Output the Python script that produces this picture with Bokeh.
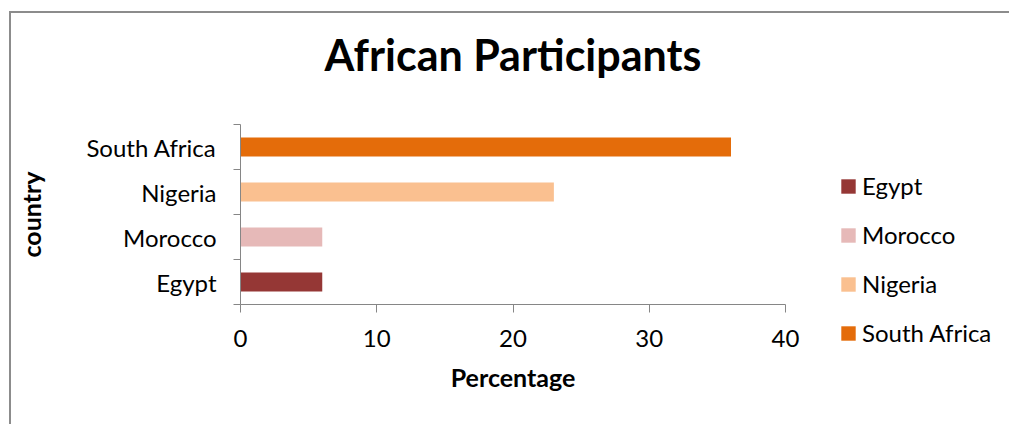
from bokeh.plotting import figure
from bokeh.models import (ColumnDataSource, Range1d, LinearAxis, FixedTicker, Legend, LegendItem, Title)
from bokeh.embed import file_html
from bokeh.resources import INLINE

countries = ["Egypt", "Morocco", "Nigeria", "South Africa"]
percentages = [6, 6, 23, 36]
colors = ["#953735", "#E6B9B8", "#FAC090", "#E46C0A"]
x_ticks = [0, 10, 20, 30, 40]

FONT = "Lato"
AXIS_GREY = "#868686"

# category positions: band centres on a numeric axis (band i spans i..i+1)
positions = [i + 0.5 for i in range(len(countries))]
boundaries = list(range(len(countries) + 1))

source = ColumnDataSource(dict(country=countries, y=positions, pct=percentages, color=colors))

p = figure(frame_width=545, frame_height=180, output_backend="svg", toolbar_location=None,
           y_range=Range1d(0, len(countries)), x_range=Range1d(0, 40),
           x_axis_location=None, y_axis_location=None,
           min_border_left=229, min_border_right=224, min_border_top=111, min_border_bottom=120)
p.styles = {"border-top": "2px solid #8c8c8c", "border-left": "2px solid #8c8c8c",
            "margin-left": "9px", "margin-top": "11px"}

# spacer title (closest to the frame) pushes the real title upward
p.add_layout(Title(text=" ", text_font_size="1px", standoff=37), "above")

p.title.text = "African Participants"
p.title.align = "center"
p.title.text_font = FONT
p.title.text_font_size = "43px"
p.title.text_font_style = "bold"
p.title.text_color = "#000000"
p.title.standoff = 10

p.outline_line_color = None
p.xgrid.visible = False
p.ygrid.visible = False

bars = p.hbar(y="y", right="pct", left=0, height=0.42, fill_color="color",
              line_color=None, source=source)

# x axis
xaxis = LinearAxis(ticker=FixedTicker(ticks=x_ticks), axis_label="Percentage")
xaxis.axis_line_color = AXIS_GREY
xaxis.major_tick_line_color = AXIS_GREY
xaxis.major_tick_out = 8
xaxis.major_tick_in = 0
xaxis.minor_tick_line_color = None
xaxis.major_label_text_font = FONT
xaxis.major_label_text_font_size = "24px"
xaxis.major_label_text_color = "#000000"
xaxis.major_label_standoff = 17
xaxis.axis_label_text_font = FONT
xaxis.axis_label_text_font_size = "25px"
xaxis.axis_label_text_font_style = "bold"
xaxis.axis_label_text_color = "#000000"
xaxis.axis_label_standoff = 12
p.add_layout(xaxis, "below")

# y axis: labels at band centres, ticks at band boundaries
yaxis = LinearAxis(ticker=FixedTicker(ticks=positions, minor_ticks=boundaries), axis_label="country")
yaxis.major_label_overrides = {pos: c for pos, c in zip(positions, countries)}
yaxis.axis_line_color = AXIS_GREY
yaxis.major_tick_line_color = None
yaxis.major_tick_out = 0
yaxis.major_tick_in = 0
yaxis.minor_tick_line_color = AXIS_GREY
yaxis.minor_tick_out = 7
yaxis.minor_tick_in = 0
yaxis.major_label_text_font = FONT
yaxis.major_label_text_font_size = "24px"
yaxis.major_label_text_color = "#000000"
yaxis.major_label_standoff = 17
yaxis.axis_label_text_font = FONT
yaxis.axis_label_text_font_size = "25px"
yaxis.axis_label_text_font_style = "bold"
yaxis.axis_label_text_color = "#000000"
yaxis.axis_label_standoff = 37
p.add_layout(yaxis, "left")

items = [LegendItem(label=c, renderers=[bars], index=i) for i, c in enumerate(countries)]
legend = Legend(items=items, location=(54, -43), orientation="vertical",
                glyph_width=18, glyph_height=18, label_height=28, spacing=20,
                label_standoff=5, padding=0, margin=0,
                border_line_color=None, background_fill_alpha=0,
                label_text_font=FONT, label_text_font_size="24px", label_text_color="#000000")
p.add_layout(legend, "right")

open("out.html", "w").write(file_html(p, INLINE))
